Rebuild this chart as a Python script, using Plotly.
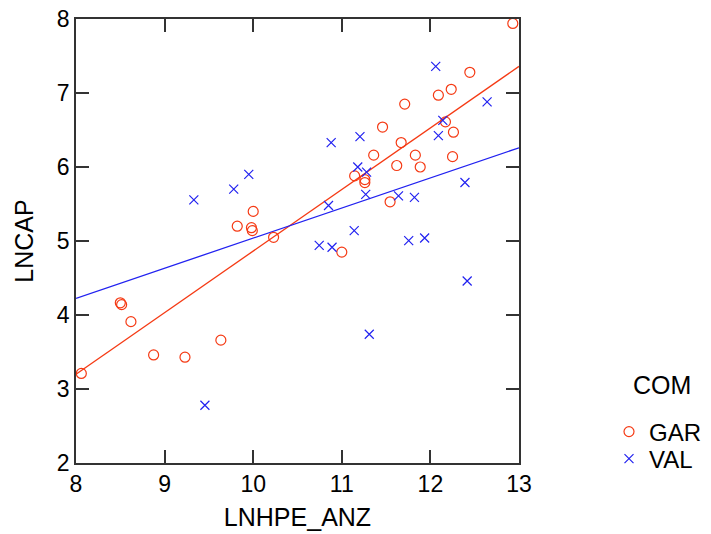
import plotly.graph_objects as go

# GAR group (LNHPE_ANZ, LNCAP)
gar_x = [8.06, 8.50, 8.515, 8.62, 8.876, 9.23, 9.635, 9.82, 9.98, 9.99, 10.00, 10.23,
         11.00, 11.145, 11.26, 11.26, 11.36, 11.46, 11.545, 11.62, 11.67, 11.71, 11.83,
         11.885, 12.09, 12.17, 12.235, 12.25, 12.26, 12.445, 12.93]
gar_y = [3.21, 4.165, 4.14, 3.91, 3.46, 3.43, 3.66, 5.20, 5.18, 5.14, 5.40, 5.05,
         4.85, 5.88, 5.83, 5.79, 6.16, 6.54, 5.53, 6.02, 6.33, 6.85, 6.16,
         6.00, 6.97, 6.61, 7.05, 6.14, 6.47, 7.28, 7.94]

# VAL group
val_x = [9.33, 9.455, 9.78, 9.95, 10.745, 10.85, 10.88, 10.89, 11.14, 11.18, 11.205, 11.27,
         11.28, 11.31, 11.64, 11.755, 11.82, 11.935, 12.06, 12.09, 12.14, 12.39, 12.415, 12.64]
val_y = [5.555, 2.78, 5.70, 5.90, 4.94, 5.48, 6.33, 4.915, 5.14, 6.00, 6.41, 5.63,
         5.93, 3.74, 5.61, 5.005, 5.59, 5.04, 7.36, 6.425, 6.63, 5.79, 4.46, 6.88]

# Fitted lines (endpoints)
fit_x = [8, 13]
gar_fit = [3.20, 7.36]
val_fit = [4.225, 6.26]

x_ticks = [8, 9, 10, 11, 12, 13]
y_ticks = [2, 3, 4, 5, 6, 7, 8]

RED = "#F53A14"
BLUE = "#2222F0"
FONT = "Liberation Sans"

# the page body adds an 8px offset; figure is sized so it ends at the window edge
W, H = 703, 526

fig = go.Figure()
fig.add_trace(go.Scatter(x=fit_x, y=gar_fit, mode="lines", line=dict(color=RED, width=1.3),
                         showlegend=False, hoverinfo="skip"))
fig.add_trace(go.Scatter(x=fit_x, y=val_fit, mode="lines", line=dict(color=BLUE, width=1.3),
                         showlegend=False, hoverinfo="skip"))
fig.add_trace(go.Scatter(x=gar_x, y=gar_y, mode="markers", name="GAR", legend="legend",
                         marker=dict(symbol="circle-open", size=10, color=RED,
                                     line=dict(width=1.2, color=RED))))
fig.add_trace(go.Scatter(x=val_x, y=val_y, mode="markers", name="VAL", legend="legend2",
                         marker=dict(symbol="x-thin-open", size=9, color=BLUE,
                                     line=dict(width=1.2, color=BLUE))))

axis_common = dict(showgrid=False, zeroline=False, showline=True, linecolor="#333333",
                   linewidth=1.5, mirror="ticks", ticks="inside", ticklen=13,
                   tickcolor="#333333", tickwidth=1.5, automargin=False,
                   ticklabeloverflow="allow",
                   tickfont=dict(family=FONT, size=23, color="black"))

legend_common = dict(xref="container", yref="container", x=601 / W, xanchor="left",
                     yanchor="middle", font=dict(family=FONT, size=24),
                     bgcolor="rgba(0,0,0,0)", itemwidth=30, borderwidth=0)

fig.update_layout(
    width=W, height=H,
    margin=dict(l=68, r=192, t=11, b=71),
    paper_bgcolor="white", plot_bgcolor="white",
    font=dict(family=FONT, size=24, color="black"),
    xaxis=dict(range=[8, 13], tickvals=x_ticks, ticktext=[str(v) for v in x_ticks],
               title=dict(text="LNHPE_ANZ", font=dict(family=FONT, size=25), standoff=12),
               **axis_common),
    yaxis=dict(range=[2, 8], tickvals=y_ticks, ticktext=[str(v) for v in y_ticks],
               title=dict(text="LNCAP", font=dict(family=FONT, size=25), standoff=16),
               **axis_common),
    legend=dict(y=1 - 424 / H, **legend_common),
    legend2=dict(y=1 - 451 / H, **legend_common),
    annotations=[dict(text="COM", xref="paper", yref="paper",
                      x=(662 - 76) / 443, y=(463 - 385) / 444,
                      xanchor="center", yanchor="middle", showarrow=False,
                      font=dict(family=FONT, size=25, color="black"))],
)

fig.write_html("out.html")
